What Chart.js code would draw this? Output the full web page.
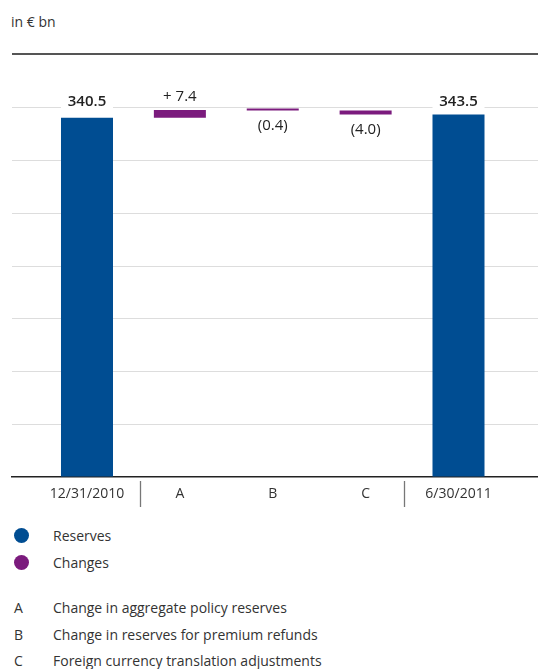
<!DOCTYPE html>
<html>
<head>
<meta charset="utf-8">
<script src="https://cdn.jsdelivr.net/npm/chart.js@4/dist/chart.umd.min.js"></script>
<style>
  body { margin: 0; background: #fff; font-family: "Open Sans", sans-serif; color: #333; }
  #wrap { position: relative; width: 538px; height: 669px; overflow: hidden; }
  #chart { position: absolute; left: 0; top: 0; }
  #unit { position: absolute; left: 11px; top: 12px; font-size: 14px; line-height: 20px; }
  .row { position: absolute; left: 0; height: 27px; line-height: 27px; font-size: 14px; white-space: nowrap; }
  .row .key { position: absolute; left: 14px; }
  .row .dot { position: absolute; left: 14px; top: 6px; width: 15px; height: 15px; border-radius: 50%; }
  .row .txt { position: absolute; left: 53px; }
</style>
</head>
<body>
<div id="wrap">
  <div id="unit">in € bn</div>
  <canvas id="chart" width="538" height="520"></canvas>
  <div id="legend"></div>
</div>
<script>
const categories = ["12/31/2010", "A", "B", "C", "6/30/2011"];
const openingReserves = 340.5;
const changes = [7.4, -0.4, -4.0];
const closingReserves = 343.5;
const valueLabels = ["340.5", "+ 7.4", "(0.4)", "(4.0)", "343.5"];
const gridValues = [0, 50, 100, 150, 200, 250, 300, 350];
const seriesNames = ["Reserves", "Changes"];
const noteTexts = [
  "Change in aggregate policy reserves",
  "Change in reserves for premium refunds",
  "Foreign currency translation adjustments",
];

const BLUE = "#004d92";
const PURPLE = "#7b1b7d";
const FONT = '"Open Sans", sans-serif';

// waterfall: totals stand on zero, each change floats from the running level
const ranges = [[0, openingReserves]];
let level = openingReserves;
changes.forEach((c) => {
  ranges.push([level, level + c]);
  level += c;
});
ranges.push([0, closingReserves]);
const last = ranges.length - 1;
const isTotal = (i) => i === 0 || i === last;

const frameLines = {
  id: "frameLines",
  afterDraw(chart) {
    const { ctx, chartArea } = chart;
    const x = chart.scales.x;
    ctx.save();
    // dark rule above the plot
    ctx.strokeStyle = "#555";
    ctx.lineWidth = 2;
    ctx.beginPath();
    ctx.moveTo(chartArea.left, chartArea.top - 1);
    ctx.lineTo(chartArea.right, chartArea.top - 1);
    ctx.stroke();
    // separators between the dates and the lettered changes
    ctx.strokeStyle = "#777";
    ctx.lineWidth = 1.3;
    [0.57, last - 0.59].forEach((v) => {
      const px = Math.round(x.getPixelForValue(v)) + 0.5;
      ctx.beginPath();
      ctx.moveTo(px, chartArea.bottom + 4);
      ctx.lineTo(px, chartArea.bottom + 30);
      ctx.stroke();
    });
    ctx.restore();
  },
};

const barLabels = {
  id: "barLabels",
  afterDatasetsDraw(chart) {
    const { ctx } = chart;
    const y = chart.scales.y;
    const topGrid = y.getPixelForValue(gridValues[gridValues.length - 1]);
    ctx.save();
    ctx.textAlign = "center";
    ctx.textBaseline = "middle";
    chart.getDatasetMeta(0).data.forEach((bar, i) => {
      let cy;
      if (isTotal(i)) {
        cy = topGrid - 6;
        ctx.fillStyle = "#fff";
        ctx.fillRect(bar.x - bar.width / 2, cy - 8, bar.width, 16);
        ctx.font = "600 15px " + FONT;
      } else {
        const top = Math.min(bar.y, bar.base);
        const bottom = Math.max(bar.y, bar.base);
        cy = changes[i - 1] > 0 ? top - 13.5 : bottom + 15;
        ctx.font = "15px " + FONT;
      }
      ctx.fillStyle = "#222";
      ctx.fillText(valueLabels[i], bar.x, cy);
    });
    ctx.restore();
  },
};

new Chart(document.getElementById("chart"), {
  type: "bar",
  data: {
    datasets: [
      {
        data: ranges.map((r, i) => ({ x: i, y: r })),
        backgroundColor: ranges.map((r, i) => (isTotal(i) ? BLUE : PURPLE)),
        borderWidth: 0,
        barPercentage: 0.56,
        categoryPercentage: 1,
        minBarLength: 2,
      },
    ],
  },
  options: {
    responsive: false,
    animation: false,
    layout: { padding: { left: 12, right: 0, top: 55, bottom: 0 } },
    plugins: { legend: { display: false }, tooltip: { enabled: false } },
    scales: {
      x: {
        type: "linear",
        offset: false,
        min: -0.8075,
        max: last + 0.856,
        afterBuildTicks: (s) => {
          s.ticks = categories.map((c, i) => ({ value: i }));
        },
        afterFit: (s) => {
          s.height = 43;
        },
        ticks: {
          callback: (v) => categories[v],
          color: "#333",
          font: { family: FONT, size: 14 },
          padding: 1,
          autoSkip: false,
          maxRotation: 0,
        },
        grid: { display: false },
        border: { display: true, color: "#222", width: 1.5 },
      },
      y: {
        min: 0,
        max: 400,
        afterBuildTicks: (s) => {
          s.ticks = gridValues.map((v) => ({ value: v }));
        },
        afterFit: (s) => {
          s.width = 0;
        },
        ticks: { display: false },
        grid: {
          color: (c) => (c.tick && c.tick.value === 0 ? "transparent" : "#dddddd"),
          lineWidth: 1,
          drawTicks: false,
        },
        border: { display: false },
      },
    },
  },
  plugins: [barLabels, frameLines],
});

// legend and letter notes
const legend = document.getElementById("legend");
const rows = [];
seriesNames.forEach((name, i) => {
  rows.push({ top: 522 + i * 27, dot: i === 0 ? BLUE : PURPLE, text: name });
});
noteTexts.forEach((text, i) => {
  rows.push({ top: 594 + i * 26.5, key: categories[i + 1], text });
});
rows.forEach((r) => {
  const row = document.createElement("div");
  row.className = "row";
  row.style.top = r.top + "px";
  if (r.dot) {
    const dot = document.createElement("span");
    dot.className = "dot";
    dot.style.background = r.dot;
    row.appendChild(dot);
  } else {
    const key = document.createElement("span");
    key.className = "key";
    key.textContent = r.key;
    row.appendChild(key);
  }
  const txt = document.createElement("span");
  txt.className = "txt";
  txt.textContent = r.text;
  row.appendChild(txt);
  legend.appendChild(row);
});
</script>
</body>
</html>
